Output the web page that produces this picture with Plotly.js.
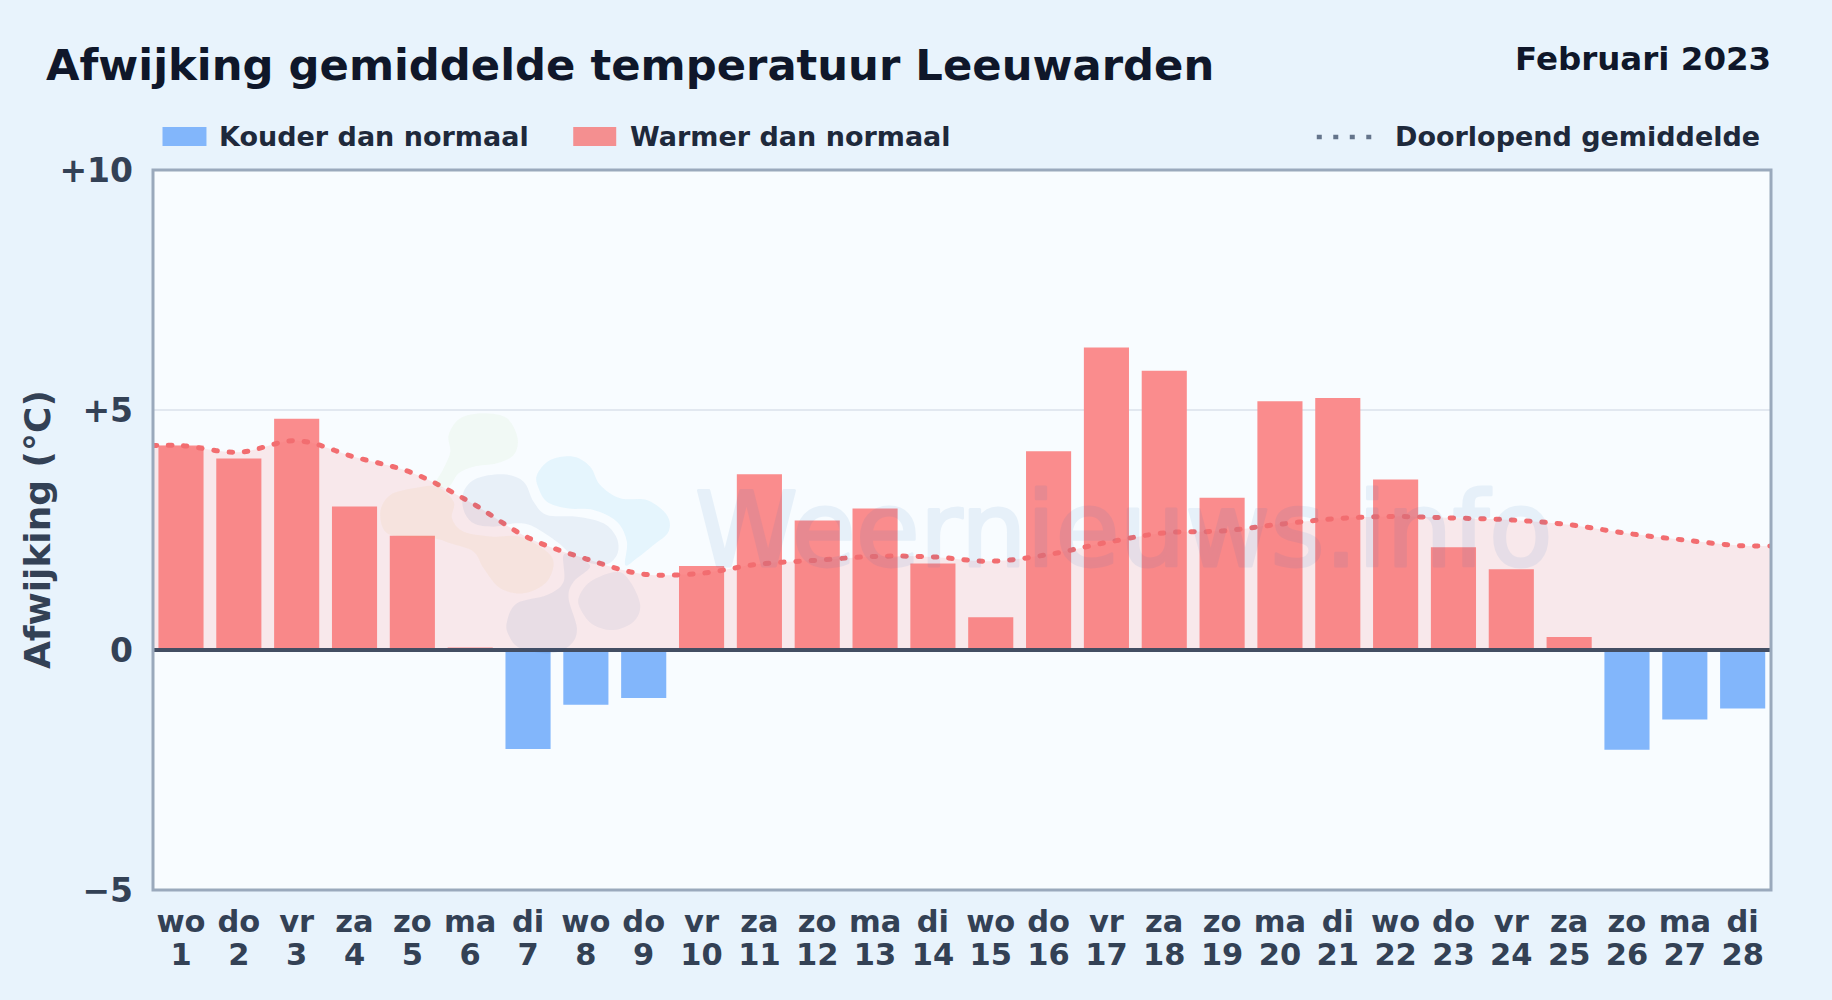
<!DOCTYPE html>
<html lang="nl">
<head>
<meta charset="utf-8">
<title>Afwijking gemiddelde temperatuur Leeuwarden</title>
<script src="https://cdn.plot.ly/plotly-3.0.1.min.js"></script>
<style>
html,body{margin:0;padding:0;background:#e8f3fc;overflow:hidden}
#chart{width:1832px;height:1000px}
.js-line{stroke-linecap:round}
.annotation[data-index="5"] text{stroke:rgb(30,110,190);stroke-width:3px;stroke-linejoin:round}
</style>
</head>
<body>
<div id="chart"></div>
<script>
// Data
const days = [1,2,3,4,5,6,7,8,9,10,11,12,13,14,15,16,17,18,19,20,21,22,23,24,25,26,27,28];
const weekdays = ["wo","do","vr","za","zo","ma","di","wo","do","vr","za","zo","ma","di","wo","do","vr","za","zo","ma","di","wo","do","vr","za","zo","ma","di"];
const deviation = [4.26,3.99,4.82,2.99,2.38,0.05,-2.06,-1.14,-1.00,1.75,3.66,2.70,2.95,1.80,0.68,4.14,6.30,5.82,3.17,5.18,5.25,3.55,2.14,1.68,0.27,-2.08,-1.45,-1.22];
const runningMean = [4.26,4.12,4.36,4.02,3.69,3.08,2.34,1.90,1.58,1.60,1.79,1.87,1.95,1.94,1.85,1.99,2.24,2.44,2.48,2.62,2.74,2.78,2.75,2.71,2.61,2.43,2.29,2.17];
const yTickVals = [10,5,0,-5];
const yTickText = ["+10","+5","0","\u22125"];

const titleText = "Afwijking gemiddelde temperatuur Leeuwarden";
const periodText = "Februari 2023";
const coldName = "Kouder dan normaal";
const warmName = "Warmer dan normaal";
const meanName = "Doorlopend gemiddelde";
const axisName = "Afwijking (\u00b0C)";
const watermarkText = "Weernieuws.info";

// Layout helpers
const W=1832,H=1000,L=152.5,R=1771.5,T=170,B=890;
const FONT='"DejaVu Sans", sans-serif';
const px=x=>(x-L)/(R-L), py=y=>(B-y)/(B-T);
const xr=[0.516,28.49];

// Faint logo behind the watermark text (outline read in zoom-crop pixels)
const crop=(X,Y)=>[360+X/3,395+Y/3];
const logoBlobs=[
 {c:"rgba(120,190,60,0.05)",p:[[265,120],[300,70],[370,55],[440,70],[472,130],[460,180],[410,205],[340,215],[295,235],[265,275],[225,270],[250,220],[270,170]]},
 {c:"rgba(230,170,60,0.07)",p:[[60,350],[90,300],[160,280],[230,275],[280,320],[275,370],[310,410],[400,425],[480,425],[560,470],[580,510],[555,565],[490,595],[420,580],[370,520],[340,470],[270,445],[220,430],[130,425],[75,410]]},
 {c:"rgba(14,165,233,0.08)",p:[[530,240],[570,195],[640,185],[690,215],[720,270],[780,310],[860,315],[920,360],[925,410],[880,450],[830,490],[795,510],[800,440],[770,380],[700,345],[620,340],[560,320],[535,280]]},
 {c:"rgba(30,90,160,0.07)",p:[[310,290],[350,250],[430,238],[490,260],[520,320],[560,360],[650,365],[730,385],[770,430],[770,480],[730,510],[650,490],[590,440],[520,395],[470,385],[400,395],[340,385],[310,345]]},
 {c:"rgba(30,90,160,0.07)",p:[[440,680],[470,625],[560,600],[610,560],[610,480],[650,490],[690,515],[640,560],[625,610],[650,700],[630,750],[570,775],[480,760],[445,720]]},
 {c:"rgba(30,90,160,0.06)",p:[[655,610],[690,560],[770,530],[810,560],[840,630],[820,680],[760,705],[700,690],[665,650]]}
];
function blobPath(points){
  const p=points.map(q=>crop(q[0],q[1])), n=p.length;
  let d="M"+px(p[0][0])+","+py(p[0][1]);
  for(let i=0;i<n;i++){
    const a=p[(i-1+n)%n],b=p[i],c=p[(i+1)%n],e=p[(i+2)%n];
    const c1=[b[0]+(c[0]-a[0])/6,b[1]+(c[1]-a[1])/6],c2=[c[0]-(e[0]-b[0])/6,c[1]-(e[1]-b[1])/6];
    d+=" C"+px(c1[0])+","+py(c1[1])+" "+px(c2[0])+","+py(c2[1])+" "+px(c[0])+","+py(c[1]);
  }
  return d+" Z";
}

const coldY=deviation.map(v=>v<0?v:null), warmY=deviation.map(v=>v>=0?v:null);
const lineX=[xr[0]].concat(days,[xr[1]]);
const lineY=[runningMean[0]].concat(runningMean,[runningMean[runningMean.length-1]]);

const traces=[
 {type:"bar",name:coldName,x:days,y:coldY,width:0.78,marker:{color:"#82b6fb",line:{width:0}},hoverinfo:"x+y"},
 {type:"bar",name:warmName,x:days,y:warmY,width:0.78,marker:{color:"#fa8c8d",line:{width:0}},hoverinfo:"x+y"},
 {type:"scatter",mode:"lines",name:meanName,xaxis:"x2",x:lineX,y:lineY,fill:"tozeroy",fillcolor:"rgba(248,113,113,0.14)",
  line:{color:"#f26d70",width:5,shape:"spline",smoothing:1,dash:"3.5px,11.8px"},hoverinfo:"y"}
];

const shapes=logoBlobs.map(b=>({type:"path",xref:"paper",yref:"paper",path:blobPath(b.p),fillcolor:b.c,line:{width:0},layer:"above"}));
shapes.push(
 {type:"rect",xref:"paper",yref:"paper",x0:0,x1:1,y0:0,y1:1,fillcolor:"rgba(0,0,0,0)",line:{color:"#9aa9bc",width:3},layer:"above"},
 {type:"rect",xref:"paper",yref:"paper",x0:px(162),x1:px(206),y0:py(146),y1:py(127),fillcolor:"#82b6fb",line:{width:0}},
 {type:"rect",xref:"paper",yref:"paper",x0:px(573),x1:px(616),y0:py(146),y1:py(127),fillcolor:"#f48f90",line:{width:0}},
 {type:"line",xref:"paper",yref:"paper",x0:px(1317),x1:px(1375),y0:py(137),y1:py(137),line:{color:"#64748b",width:4.5,dash:"5px,11.5px"}}
);

const ann=(text,x,y,xanchor,size,color,extra)=>Object.assign({text,xref:"paper",yref:"paper",x:px(x),y:py(y),xanchor,yanchor:"middle",showarrow:false,
  font:{family:FONT,size,color,weight:700}},extra||{});
const annotations=[
 ann(periodText,1774,59,"right",32.5,"#0f172a"),
 ann(coldName,217,137,"left",27,"#1e293b"),
 ann(warmName,628,137,"left",27,"#1e293b"),
 ann(meanName,1393,137,"left",27,"#1e293b"),
 ann(axisName,36.5,530,"center",36,"#334155",{textangle:-90}),
 {text:watermarkText,xref:"paper",yref:"paper",x:px(1124),y:py(530),xanchor:"center",yanchor:"middle",showarrow:false,opacity:0.08,
  font:{family:FONT,size:104,color:"rgb(30,110,190)",weight:400}}
];

const xBase={type:"linear",range:xr,tickmode:"array",tickvals:days,showgrid:false,zeroline:false,ticks:"",
  tickfont:{family:FONT,size:30.5,color:"#334155",weight:700},tickangle:0};
const layout={
 width:W,height:H,autosize:false,
 margin:{l:L,r:W-R,t:T,b:H-B,pad:0},
 paper_bgcolor:"#e8f3fc",plot_bgcolor:"#f8fcff",
 showlegend:false,barmode:"overlay",
 title:{text:titleText,x:46/W,xanchor:"left",xref:"container",y:1-65/H,yanchor:"middle",font:{family:FONT,size:43.3,color:"#0f172a",weight:700}},
 xaxis:Object.assign({},xBase,{ticktext:weekdays,showline:false,ticklabelstandoff:10}),
 xaxis2:Object.assign({},xBase,{ticktext:days.map(String),overlaying:"x",anchor:"y",side:"bottom",showline:false,ticklabelstandoff:43}),
 yaxis:{range:[-5,10],tickmode:"array",tickvals:yTickVals,ticktext:yTickText,showgrid:true,gridcolor:"#e2e8f0",gridwidth:1.6,
  zeroline:true,zerolinecolor:"#434e63",zerolinewidth:3.4,zerolinelayer:"above traces",
  showline:false,ticks:"",ticklabelstandoff:19,
  tickfont:{family:FONT,size:33,color:"#334155",weight:700}},
 shapes,annotations
};
Plotly.newPlot("chart",traces,layout,{displayModeBar:false,staticPlot:true});
</script>
</body>
</html>
